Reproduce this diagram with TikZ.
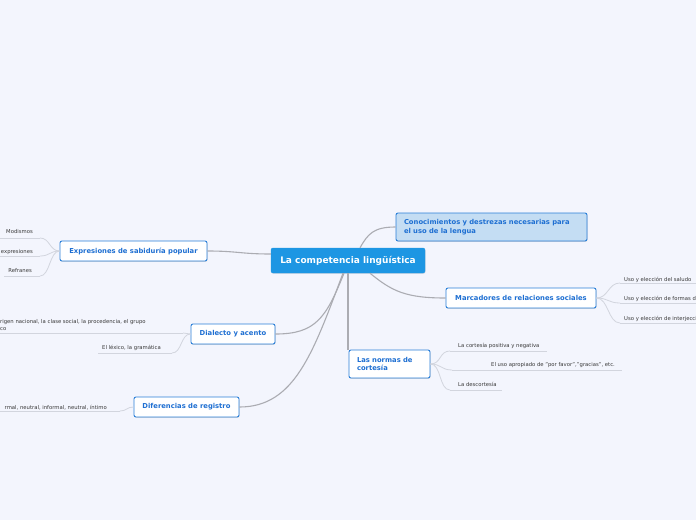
\documentclass[tikz,border=0pt]{standalone}
\usepackage{fontspec}
\setmainfont{DejaVu Sans}
\usetikzlibrary{shadows}

\definecolor{bgcol}{HTML}{F3F5FD}
\definecolor{rootblue}{HTML}{1D96E3}
\definecolor{topicblue}{HTML}{2A7FD8}
\definecolor{topictext}{HTML}{1E6FD2}
\definecolor{lightfill}{HTML}{C4DDF3}
\definecolor{branchgray}{HTML}{ABACB2}
\definecolor{twiggray}{HTML}{D2D5DE}
\definecolor{leaftext}{HTML}{383838}

\begin{document}
\begin{tikzpicture}[x=1pt,y=-1pt,
    root/.style={fill=rootblue, draw=rootblue, rounded corners=2pt, text=white,
        font=\fontsize{9}{11}\selectfont\bfseries, minimum height=25pt,
        drop shadow={shadow xshift=.5pt, shadow yshift=-.8pt, opacity=.2}},
    topic/.style={fill=white, draw=topicblue, line width=.9pt, rounded corners=2pt,
        text=topictext, font=\fontsize{6.8}{8.6}\selectfont\bfseries,
        minimum height=20pt, inner xsep=8pt,
        drop shadow={shadow xshift=.5pt, shadow yshift=-.8pt, opacity=.25}},
    leaf/.style={text=leaftext, font=\fontsize{5.3}{7}\selectfont, inner sep=0pt},
    branch/.style={draw=branchgray, line width=1.1pt},
    twig/.style={draw=twiggray, line width=.8pt}]

    \fill [bgcol] (0,0) rectangle (696,520);
    \clip (0,0) rectangle (696,520);

    % central topic
    \node [root, minimum width=154pt] (root) at (348,260.5) {La competencia lingüística};

    % main topics
    \node [topic, fill=lightfill, minimum height=28pt, text width=175pt, align=left]
        (conoc) at (491.5,227) {Conocimientos y destrezas necesarias para\\el uso de la lengua};
    \node [topic, minimum width=147pt] (expr) at (133.5,251) {Expresiones de sabiduría popular};
    \node [topic, minimum width=150pt] (marc) at (521,298) {Marcadores de relaciones sociales};
    \node [topic, minimum width=84pt] (dial) at (233,334) {Dialecto y acento};
    \node [topic, minimum height=28pt, text width=65pt, align=left]
        (normas) at (389.5,364) {Las normas de\\cortesía};
    \node [topic, minimum width=105pt] (regis) at (186.5,407) {Diferencias de registro};

    \draw [branch] ([xshift=12pt]root.north) .. controls +(8,-14) and +(-22,0) .. (conoc.west);
    \draw [branch] ([yshift=6.5pt]root.west) .. controls +(-30,0) and +(30,0) .. (expr.east);
    \draw [branch] ([xshift=22pt]root.south) .. controls +(22,18) and +(-40,0) .. (marc.west);
    \draw [branch] (root.south) -- (root.south |- normas.north);
    \draw [branch] ([xshift=-4pt]root.south) .. controls +(-18,45) and +(40,0) .. (dial.east);
    \draw [branch] ([xshift=-5pt]root.south) .. controls +(-30,80) and +(55,0) .. (regis.east);

    % expresiones: leaves
    \node [leaf, anchor=base east] (modis) at (33,233) {Modismos};
    \node [leaf, anchor=base east] (otras) at (33,253) {expresiones};
    \node [leaf, anchor=base east] (refr) at (32,272) {Refranes};
    \coordinate (modis-l) at (0,238);
    \coordinate (modis-r) at (40,238);
    \coordinate (otras-l) at (0,256);
    \coordinate (otras-r) at (40,256);
    \coordinate (refr-l) at (4,276);
    \coordinate (refr-r) at (40,276);

    \draw [twig] (modis-l) -- (modis-r);
    \draw [twig] (otras-l) -- (otras-r);
    \draw [twig] (refr-l) -- (refr-r);
    \draw [twig] (expr.west) .. controls +(-10,0) and +(10,0) .. (modis-r);
    \draw [twig] (expr.west) .. controls +(-10,0) and +(10,0) .. (otras-r);
    \draw [twig] (expr.west) .. controls +(-10,0) and +(10,0) .. (refr-r);

    % dialecto: leaves
    \node [leaf, anchor=north west, align=left] (origen) at (0,319)
        {rigen nacional, la clase social, la procedencia, el grupo\\co};
    \node [leaf, anchor=base west] (lexico) at (102,349) {El léxico, la gramática};
    \coordinate (origen-l) at (0,333);
    \coordinate (origen-r) at (183,333);
    \coordinate (lexico-l) at (98,353);
    \coordinate (lexico-r) at (172,353);

    \draw [twig] (origen-l) -- (origen-r);
    \draw [twig] (lexico-l) -- (lexico-r);
    \draw [twig] (dial.west) .. controls +(-4,0) and +(4,0) .. (origen-r);
    \draw [twig] (dial.west) .. controls +(-10,0) and +(10,0) .. (lexico-r);

    % registro: leaf
    \node [leaf, anchor=base east] (grados) at (107,409) {rmal, neutral, informal, neutral, íntimo};
    \coordinate (grados-l) at (0,411);
    \coordinate (grados-r) at (120,411);

    \draw [twig] (grados-l) -- (grados-r);
    \draw [twig] (regis.west) .. controls +(-7,0) and +(7,0) .. (grados-r);

    % marcadores: leaves
    \node [leaf, anchor=base west] (saludo) at (624,281) {Uso y elección del saludo};
    \node [leaf, anchor=base west] (formas) at (624,300) {Uso y elección de formas de tratamiento};
    \node [leaf, anchor=base west] (interj) at (624,320) {Uso y elección de interjecciones};
    \coordinate (saludo-l) at (620,283);
    \coordinate (formas-l) at (620,303);
    \coordinate (interj-l) at (620,323);

    \draw [twig] (saludo-l) -- ++(80,0);
    \draw [twig] (formas-l) -- ++(80,0);
    \draw [twig] (interj-l) -- ++(80,0);
    \draw [twig] (marc.east) .. controls +(12,0) and +(-12,0) .. (saludo-l);
    \draw [twig] (marc.east) .. controls +(12,0) and +(-12,0) .. (formas-l);
    \draw [twig] (marc.east) .. controls +(12,0) and +(-12,0) .. (interj-l);

    % normas: leaves
    \node [leaf, anchor=base west] (positiva) at (458,347) {La cortesía positiva y negativa};
    \node [leaf, anchor=base west] (favor) at (491,366) {El uso apropiado de "por favor","gracias", etc.};
    \node [leaf, anchor=base west] (descort) at (458,386) {La descortesía};
    \coordinate (positiva-l) at (450,351);
    \coordinate (positiva-r) at (547,351);
    \coordinate (favor-l) at (452,370);
    \coordinate (favor-r) at (622,370);
    \coordinate (descort-l) at (450,390);
    \coordinate (descort-r) at (502,390);

    \draw [twig] (positiva-l) -- (positiva-r);
    \draw [twig] (favor-l) -- (favor-r);
    \draw [twig] (descort-l) -- (descort-r);
    \draw [twig] (normas.east) .. controls +(11,0) and +(-11,0) .. (positiva-l);
    \draw [twig] (normas.east) .. controls +(11,0) and +(-11,0) .. (favor-l);
    \draw [twig] (normas.east) .. controls +(11,0) and +(-11,0) .. (descort-l);

\end{tikzpicture}
\end{document}
